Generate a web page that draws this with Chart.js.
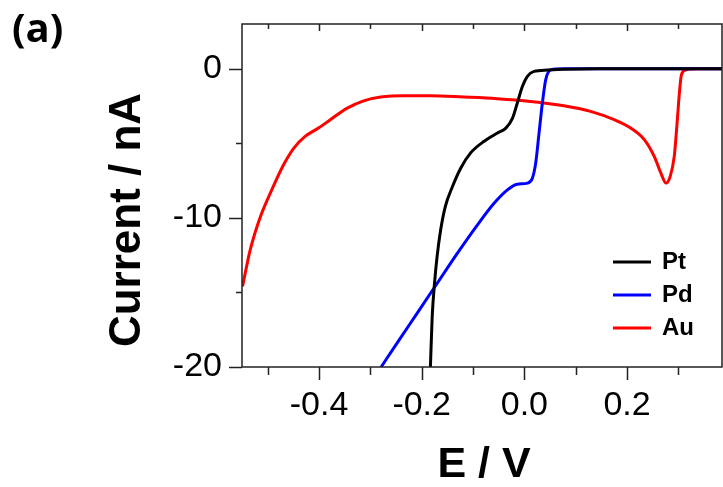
<!DOCTYPE html>
<html>
<head>
<meta charset="utf-8">
<script src="https://cdn.jsdelivr.net/npm/chart.js@4/dist/chart.umd.min.js"></script>
<style>
  html, body { margin: 0; padding: 0; background: #fff; }
  #wrap { width: 723px; height: 487px; }
</style>
</head>
<body>
<div id="wrap"><canvas id="lsvChart"></canvas></div>
<script>
// potential (V) and current (nA)
const ptE = [-0.183, -0.1795, -0.175, -0.170, -0.163, -0.154, -0.140, -0.124, -0.105, -0.079, -0.053, -0.036, -0.023, -0.0137, -0.0039, 0.0059, 0.0189, 0.045, 0.077, 0.142, 0.388];
const ptI = [-20, -16.6, -14.4, -12.6, -10.8, -9.24, -7.90, -6.67, -5.66, -4.88, -4.32, -3.98, -3.31, -2.30, -1.19, -0.51, -0.18, -0.09, -0.04, 0, 0];

const pdE = [-0.279, -0.248, -0.209, -0.170, -0.131, -0.092, -0.059, -0.033, -0.0137, 0.0059, 0.0156, 0.0221, 0.0286, 0.0351, 0.0416, 0.0514, 0.077, 0.388];
const pdI = [-20, -18.4, -16.4, -14.4, -12.4, -10.5, -9.02, -8.12, -7.74, -7.67, -7.34, -6.33, -4.32, -2.30, -0.74, -0.07, 0, 0];

const auE = [-0.549, -0.534, -0.514, -0.492, -0.469, -0.449, -0.427, -0.401, -0.378, -0.345, -0.313, -0.280, -0.235, -0.183, -0.118, -0.053, 0.012, 0.077, 0.129, 0.175, 0.207, 0.234, 0.253, 0.266, 0.276, 0.284, 0.292, 0.297, 0.302, 0.306, 0.315, 0.338, 0.388];
const auI = [-14.6, -12.15, -9.91, -8.12, -6.44, -5.32, -4.54, -3.98, -3.42, -2.64, -2.15, -1.90, -1.81, -1.81, -1.90, -2.01, -2.19, -2.48, -2.86, -3.42, -3.98, -4.77, -5.88, -7.00, -7.67, -7.23, -5.88, -3.87, -1.63, -0.40, -0.07, 0, 0];

const seriesLabels = ["Pt", "Pd", "Au"];
const seriesColors = ["#000000", "#0000ff", "#ff0000"];

function toPoints(xs, ys) {
  return xs.map((x, i) => ({ x: x, y: ys[i] }));
}

function isMajorX(v) {
  return Math.abs(Math.round(v * 10)) % 2 === 0;
}
function isMajorY(v) {
  return Math.abs(Math.round(v)) % 10 === 0;
}

Chart.defaults.font.family = "'Liberation Sans', Arial, sans-serif";
Chart.defaults.color = "#000";

// frame, tick marks, legend, axis titles and panel letter
const decorations = {
  id: "decorations",
  afterDraw(chart) {
    const { ctx, chartArea: a, scales } = chart;
    const x = scales.x;
    const y = scales.y;
    ctx.save();
    ctx.strokeStyle = "#222";
    ctx.lineWidth = 1.5;
    ctx.strokeRect(a.left, a.top, a.right - a.left, a.bottom - a.top);

    ctx.beginPath();
    x.ticks.forEach((t) => {
      const px = Math.round(x.getPixelForValue(t.value)) + 0.5;
      const major = isMajorX(t.value);
      ctx.moveTo(px, a.bottom);
      ctx.lineTo(px, a.bottom + (major ? 13 : 8));
      ctx.moveTo(px, a.top);
      ctx.lineTo(px, a.top + (major ? 7 : 5));
    });
    y.ticks.forEach((t) => {
      const py = Math.round(y.getPixelForValue(t.value)) + 0.5;
      const major = isMajorY(t.value);
      ctx.moveTo(a.left, py);
      ctx.lineTo(a.left - (major ? 13 : 6), py);
    });
    ctx.stroke();

    // legend inside the plot
    ctx.lineWidth = 3;
    ctx.font = "bold 24px 'Liberation Sans', Arial, sans-serif";
    ctx.textBaseline = "middle";
    ctx.textAlign = "left";
    chart.data.datasets.forEach((ds, i) => {
      const ly = a.bottom - 105 + i * 33;
      ctx.strokeStyle = ds.borderColor;
      ctx.beginPath();
      ctx.moveTo(a.right - 109, ly);
      ctx.lineTo(a.right - 71, ly);
      ctx.stroke();
      ctx.fillStyle = "#000";
      ctx.fillText(ds.label, a.right - 60, ly);
    });

    // axis titles
    ctx.fillStyle = "#000";
    ctx.textAlign = "center";
    ctx.font = "bold 43px 'Liberation Sans', Arial, sans-serif";
    ctx.fillText("E / V", 484, 465);
    ctx.save();
    ctx.translate(128, 220);
    ctx.rotate(-Math.PI / 2);
    ctx.font = "bold 44px 'Liberation Sans', Arial, sans-serif";
    ctx.fillText("Current / nA", 0, 0);
    ctx.restore();

    ctx.textAlign = "left";
    ctx.font = "bold 40px 'Open Sans', sans-serif";
    ctx.fillText("(a)", 12, 31);
    ctx.restore();
  },
};

const lsvCtx = document.getElementById("lsvChart").getContext("2d");
const lsvChart = new Chart(lsvCtx, {
  type: "scatter",
  data: {
    datasets: [
      { label: seriesLabels[0], data: toPoints(ptE, ptI), borderColor: seriesColors[0] },
      { label: seriesLabels[1], data: toPoints(pdE, pdI), borderColor: seriesColors[1] },
      { label: seriesLabels[2], data: toPoints(auE, auI), borderColor: seriesColors[2] },
    ].map((ds) => Object.assign(ds, {
      showLine: true,
      pointRadius: 0,
      borderWidth: 3,
      cubicInterpolationMode: "monotone",
      backgroundColor: ds.borderColor,
    })),
  },
  options: {
    responsive: true,
    maintainAspectRatio: false,
    animation: false,
    layout: { padding: { top: 24, right: 1, left: 0, bottom: 0 } },
    scales: {
      x: {
        type: "linear",
        min: -0.55,
        max: 0.385,
        afterFit: (scale) => {
          scale.height = 120;
          scale.paddingLeft = 0;
          scale.paddingRight = 0;
        },
        grid: { display: false, drawTicks: false },
        border: { display: false },
        ticks: {
          stepSize: 0.1,
          includeBounds: false,
          padding: 18,
          autoSkip: false,
          maxRotation: 0,
          font: { size: 34 },
          callback: (v) => (isMajorX(v) ? (Math.round(v * 10) / 10).toFixed(1) : ""),
        },
      },
      y: {
        min: -20,
        max: 3,
        afterFit: (scale) => {
          scale.width = 242;
          scale.paddingTop = 0;
          scale.paddingBottom = 0;
        },
        grid: { display: false, drawTicks: false },
        border: { display: false },
        ticks: {
          stepSize: 5,
          includeBounds: false,
          padding: 20,
          font: { size: 34 },
          callback: (v) => (isMajorY(v) ? String(Math.round(v)) : ""),
        },
      },
    },
    plugins: {
      legend: { display: false },
      tooltip: { enabled: false },
    },
  },
  plugins: [decorations],
});
</script>
</body>
</html>
